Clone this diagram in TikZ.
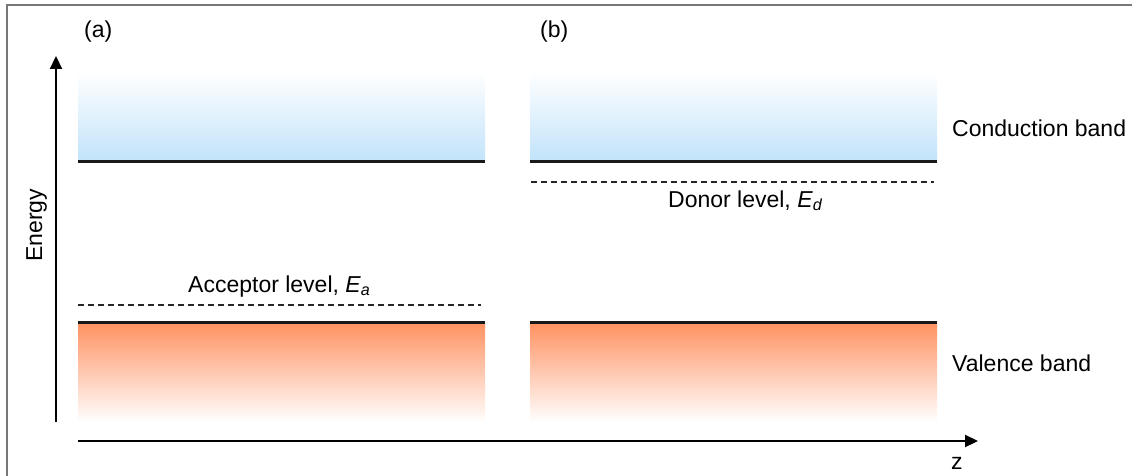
\documentclass[tikz,border=0pt]{standalone}
\usepackage{fontspec}
\setmainfont{Liberation Sans}
\usetikzlibrary{arrows.meta}
\definecolor{bandblue}{RGB}{194,227,250}
\definecolor{bandorange}{RGB}{255,146,98}
\definecolor{framegray}{RGB}{120,120,120}
\begin{document}
\begin{tikzpicture}[x=1pt,y=-1pt,
  lbl/.style={inner sep=0pt,anchor=base west,font=\fontsize{23}{27}\selectfont},
  bandedge/.style={line width=3pt,black!90},
  levelline/.style={line width=1.2pt,dash pattern=on 6pt off 4pt,black!85},
  axis/.style={line width=2.2pt,-{Triangle[length=13pt,width=12pt]}},
  framestyle/.style={line width=2pt,framegray}]
\useasboundingbox (0,0) rectangle (1132,476);
% frame
\draw[framestyle] (7,476) -- (7,5) -- (1132,5);
% bands (a)
\shade[top color=white,bottom color=bandblue] (78,72) rectangle (485,160);
\shade[top color=bandorange,bottom color=white] (78,323) rectangle (485,422);
% bands (b)
\shade[top color=white,bottom color=bandblue] (530,72) rectangle (937,160);
\shade[top color=bandorange,bottom color=white] (530,323) rectangle (937,422);
% band edges
\coordinate (ca1) at (78,161); \coordinate (ca2) at (485,161);
\coordinate (cb1) at (530,161); \coordinate (cb2) at (937,161);
\coordinate (va1) at (78,322); \coordinate (va2) at (485,322);
\coordinate (vb1) at (530,322); \coordinate (vb2) at (937,322);
\draw[bandedge] (ca1) -- (ca2);
\draw[bandedge] (cb1) -- (cb2);
\draw[bandedge] (va1) -- (va2);
\draw[bandedge] (vb1) -- (vb2);
% levels
\coordinate (ea1) at (78,305); \coordinate (ea2) at (481,305);
\coordinate (ed1) at (531,182); \coordinate (ed2) at (934,182);
\draw[levelline] (ea1) -- (ea2);
\draw[levelline] (ed1) -- (ed2);
% axes
\coordinate (eb) at (56,422); \coordinate (et) at (56,56);
\coordinate (zl) at (78,441); \coordinate (zr) at (978,441);
\draw[axis] (eb) -- (et);
\draw[axis] (zl) -- (zr);
% labels
\node[lbl] (la) at (84,38) {(a)};
\node[lbl] (lb) at (540,38) {(b)};
\node[lbl,rotate=90] (len) at (42,262) {Energy};
\node[lbl] (lz) at (951,469) {z};
\node[lbl] (lcb) at (952,137) {Conduction band};
\node[lbl] (lvb) at (952,371) {Valence band};
\node[lbl] (lac) at (188,292) {Acceptor level, \textit{E}\textsubscript{\textit{a}}};
\node[lbl] (ldo) at (668,207) {Donor level, \textit{E}\textsubscript{\textit{d}}};
\end{tikzpicture}
\end{document}
